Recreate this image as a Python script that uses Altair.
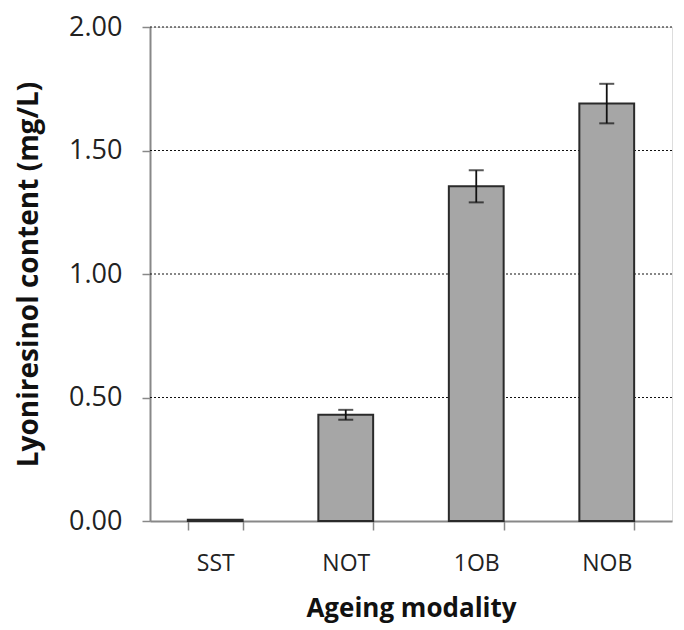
import altair as alt
import pandas as pd

categories = ["SST", "NOT", "1OB", "NOB"]
values = [0.005, 0.43, 1.355, 1.69]
errors = [0.0, 0.02, 0.065, 0.08]

df = pd.DataFrame({"cat": categories, "val": values, "err": errors})
df["lo"] = df["val"] - df["err"]
df["hi"] = df["val"] + df["err"]

FONT = "Open Sans"

x_enc = alt.X("cat:N", sort=categories,
              scale=alt.Scale(paddingInner=0.58, paddingOuter=0.29),
              axis=alt.Axis(title="Ageing modality", labelAngle=0, labelFontSize=23,
                            labelFont=FONT, labelColor="#222", labelPadding=22,
                            titleFont=FONT, titleFontSize=26, titleFontWeight="bold",
                            titleColor="#111", titlePadding=20,
                            domainColor="#888", domainWidth=2, tickColor="#888",
                            tickWidth=1.5, tickSize=9, tickBand="extent", grid=False))

y_scale = alt.Scale(domain=[0, 2], nice=False)

bars = alt.Chart(df).mark_bar(fill="#a6a6a6", stroke="#2a2a2a", strokeWidth=2).encode(
    x=x_enc,
    y=alt.Y("val:Q", scale=y_scale,
            axis=alt.Axis(title="Lyoniresinol content (mg/L)", values=[0, 0.5, 1.0, 1.5, 2.0],
                          format=".2f", labelFontSize=27, labelFont=FONT, labelColor="#222",
                          labelPadding=20, titleFont=FONT, titleFontSize=28,
                          titleFontWeight="bold", titleColor="#111", titlePadding=25,
                          domainColor="#888", domainWidth=2, tickColor="#888",
                          tickWidth=1.5, tickSize=8, grid=False)),
)

grid_df = pd.DataFrame({"g": [0.5, 1.0, 1.5, 2.0]})
grid = alt.Chart(grid_df).mark_rule(color="#111", strokeWidth=1.2, strokeDash=[2, 2]).encode(
    y=alt.Y("g:Q", scale=y_scale)
)

err_df = df[df["err"] > 0]
rules = alt.Chart(err_df).mark_rule(color="#111", strokeWidth=1.8).encode(
    x=alt.X("cat:N", sort=categories), y="lo:Q", y2="hi:Q")
caps_lo = alt.Chart(err_df).mark_tick(color="#111", thickness=2, size=15, orient="horizontal").encode(
    x=alt.X("cat:N", sort=categories), y="lo:Q")
caps_hi = alt.Chart(err_df).mark_tick(color="#111", thickness=2, size=15, orient="horizontal").encode(
    x=alt.X("cat:N", sort=categories), y="hi:Q")

chart = alt.layer(grid, bars, rules, caps_lo, caps_hi).properties(
    width=522, height=494,
    autosize=alt.AutoSizeParams(type="none"),
    padding={"left": 142, "top": 19, "right": 4, "bottom": 107},
).configure_view(stroke=None).configure(background="white")

chart.save("out.html", embed_options={"renderer": "svg", "actions": False})
